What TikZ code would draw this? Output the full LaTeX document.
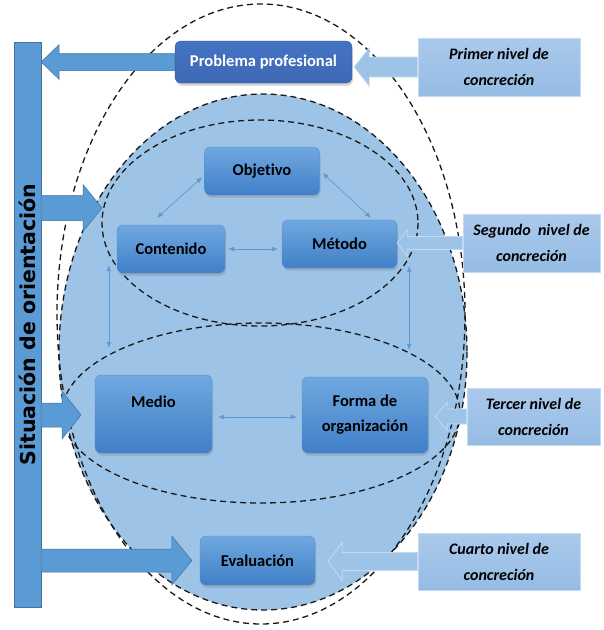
\documentclass[tikz,border=0pt]{standalone}
\usepackage{fontspec}
\usepackage{graphicx}
\setmainfont{Carlito}[Ligatures=NoCommon]
\newfontfamily\barfont{DejaVu Sans}
\usetikzlibrary{arrows.meta,calc,shadows}

\definecolor{ellfill}{RGB}{157,195,230}
\definecolor{barblue}{RGB}{91,155,213}
\definecolor{baredge}{RGB}{65,113,156}
\definecolor{boxtop}{RGB}{112,168,224}
\definecolor{boxbot}{RGB}{64,128,200}
\definecolor{boxedge}{RGB}{80,140,205}
\definecolor{probblue}{RGB}{68,114,196}
\definecolor{probedge}{RGB}{47,82,143}
\definecolor{nivtop}{RGB}{170,201,236}
\definecolor{nivbot}{RGB}{150,188,228}
\definecolor{nivedge}{RGB}{196,218,242}
\definecolor{linkblue}{RGB}{91,155,213}

% fat block arrow: tail x from #2, tip at #3
\newcommand{\fatarrow}[6][]{%
  \filldraw[#1] let \p1=#2, \p2=#3, \n1={sign(\x2-\x1)*#6} in
    (\x1,\y2+#4) -- (\x2-\n1,\y2+#4) -- (\x2-\n1,\y2+#5) -- (\x2,\y2)
    -- (\x2-\n1,\y2-#5) -- (\x2-\n1,\y2-#4) -- (\x1,\y2-#4) -- cycle;}

\begin{document}
\begin{tikzpicture}[x=1pt,y=-1pt,
  box/.style={rounded corners=6pt, top color=boxtop, bottom color=boxbot, draw=boxedge, line width=0.3pt,
    drop shadow={shadow xshift=1pt, shadow yshift=-2.5pt, opacity=0.35},
    font=\fontsize{16.5}{25}\selectfont\bfseries, align=center, inner sep=1pt},
  nivel/.style={top color=nivtop, bottom color=nivbot, draw=nivedge, line width=0.8pt,
    font=\fontsize{16}{26}\selectfont\bfseries\itshape, align=center, inner sep=1pt},
  zona/.style={draw=black!90, line width=1.3pt, dash pattern=on 6pt off 4pt},
  link/.style={draw=linkblue, line width=0.7pt, {Latex[length=6pt,width=5pt]}-{Latex[length=6pt,width=5pt]}},
  flecha/.style={fill=barblue, draw=baredge, line width=0.5pt},
  flechaclara/.style={fill=ellfill, draw=nivedge, line width=0.8pt}]

\useasboundingbox (0,0) rectangle (604,630);

% zonas
\fill[ellfill] (263,352) ellipse [x radius=204, y radius=258];
\draw[zona] (263,352) ellipse [x radius=204, y radius=258];
\draw[zona] (261,314) ellipse [x radius=204, y radius=310];
\draw[zona] (260,223) ellipse [x radius=158, y radius=103];
\draw[zona] (261,413) ellipse [x radius=199, y radius=90];

% barra
\node[draw=baredge, fill=barblue, minimum width=27pt, minimum height=565pt, inner sep=0pt] (sit) at (27.5,324.5)
  {\rotatebox{90}{\barfont\fontsize{20.5}{20}\selectfont\bfseries Situación de orientación}};

% componentes
\node[box, top color=probblue, bottom color=probblue!92!black, draw=probedge, text=white,
  minimum width=177pt, minimum height=42pt] (prob) at (263.5,62) {Problema profesional};
\node[box, minimum width=115pt, minimum height=48pt] (obj) at (262,171) {Objetivo};
\node[box, minimum width=108pt, minimum height=48pt] (cont) at (171,249) {Contenido};
\node[box, minimum width=115pt, minimum height=48pt] (met) at (339.5,244) {Método};
\node[box, minimum width=117pt, minimum height=78pt] (medio) at (153.5,414) {Medio\\ \mbox{}};
\node[box, minimum width=126pt, minimum height=76pt] (forma) at (365,415) {Forma de\\organización};
\node[box, minimum width=115pt, minimum height=49pt] (eval) at (257.5,560.5) {Evaluación};

% niveles
\node[nivel, minimum width=162pt, minimum height=58pt] (n1) at (499,67) {Primer nivel de\\concreción};
\node[nivel, minimum width=137pt, minimum height=58pt] (n2) at (531.5,243) {Segundo\ \ nivel de\\concreción};
\node[nivel, minimum width=133pt, minimum height=57pt] (n3) at (533.5,416.5) {Tercer nivel de\\concreción};
\node[nivel, minimum width=162pt, minimum height=57pt] (n4) at (499,561.5) {Cuarto nivel de\\concreción};

\coordinate (in2) at (102,208);
\coordinate (in3) at (81,415);

% flechas de la barra
\fatarrow[flecha]{(prob.west)}{(sit.east |- prob.west)}{8.5}{17.5}{18}
\fatarrow[flecha]{(sit.east |- in2)}{(in2)}{12.5}{23.5}{19}
\fatarrow[flecha]{(sit.east |- in3)}{(in3)}{12}{24}{19}
\fatarrow[flecha]{(sit.east |- eval.west)}{($(eval.west)+(-8,0)$)}{11.5}{24.5}{20}

% flechas de los niveles
\fatarrow[flechaclara]{(n1.west)}{($(prob.east |- n1.west)+(2,0)$)}{10}{19}{15}
\fatarrow[flechaclara]{(n2.west)}{(met.east |- n2.west)}{6.5}{13}{10}
\fatarrow[flechaclara]{(n3.west)}{($(forma.east |- n3.west)+(7,0)$)}{7.5}{14}{12}
\fatarrow[flechaclara]{(n4.west)}{($(eval.east |- n4.west)+(13,0)$)}{9}{19}{14}

% relaciones
\draw[link] ($(cont.north)+(-14,-7)$) -- ($(obj.south west)+(-2,-18)$);
\draw[link] ($(obj.east)+(3,2)$) -- ($(met.north)+(31.5,-2)$);
\draw[link] ($(cont.east)+(3,0)$) -- ($(cont.east -| met.west)+(-4,0)$);
\draw[link] ($(cont.south west)+(-8,-8)$) -- ($(medio.north west)+(14,-27)$);
\draw[link] ($(met.south east)+(12,-2)$) -- ($(forma.north east)+(-19,-27)$);
\draw[link] ($(medio.east)+(6,3)$) -- ($(forma.west)+(-5,2)$);
\end{tikzpicture}
\end{document}
